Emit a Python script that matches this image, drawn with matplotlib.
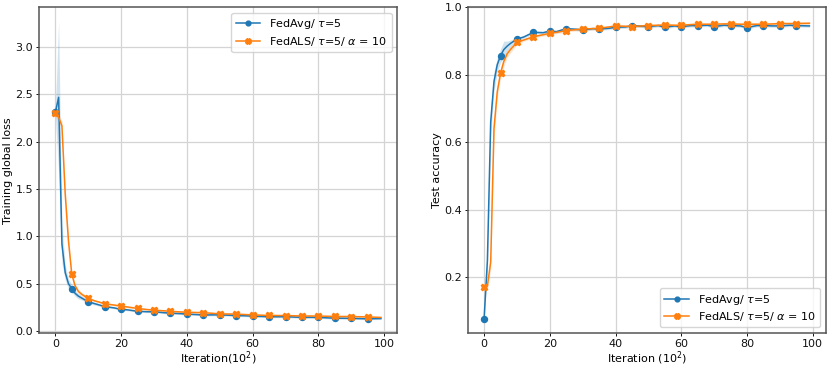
import numpy as np
import matplotlib
matplotlib.use("Agg")
import matplotlib.pyplot as plt

iters = [0, 1, 2, 3, 4, 5, 6, 7, 8, 10, 12, 15, 18, 20, 22, 25, 28, 30, 33, 35,
         38, 40, 43, 45, 48, 50, 53, 55, 58, 60, 63, 65, 68, 70, 73, 75, 78, 80,
         83, 85, 88, 90, 93, 95, 99]

loss_avg = [2.31, 2.47, 0.92, 0.62, 0.50, 0.45, 0.40, 0.37, 0.35, 0.31, 0.29, 0.26, 0.245,
            0.23, 0.225, 0.21, 0.205, 0.205, 0.195, 0.19, 0.185, 0.18, 0.175, 0.17, 0.172,
            0.172, 0.168, 0.165, 0.162, 0.158, 0.155, 0.152, 0.152, 0.153, 0.148, 0.146,
            0.146, 0.145, 0.14, 0.137, 0.136, 0.135, 0.132, 0.13, 0.133]
loss_avg_std = [0.03, 0.80, 0.20, 0.08, 0.05, 0.04, 0.03, 0.03, 0.02, 0.02, 0.015, 0.01, 0.01,
                0.01, 0.01, 0.01, 0.01, 0.01, 0.01, 0.01, 0.01, 0.01, 0.01, 0.01, 0.01,
                0.01, 0.01, 0.01, 0.01, 0.01, 0.01, 0.01, 0.01, 0.01, 0.01, 0.01,
                0.01, 0.01, 0.01, 0.01, 0.01, 0.01, 0.01, 0.01, 0.01]

loss_als = [2.30, 2.26, 2.17, 1.45, 0.95, 0.60, 0.48, 0.42, 0.39, 0.345, 0.32, 0.29, 0.275,
            0.265, 0.255, 0.24, 0.228, 0.222, 0.215, 0.21, 0.203, 0.20, 0.197, 0.195, 0.188,
            0.182, 0.181, 0.18, 0.175, 0.172, 0.168, 0.166, 0.165, 0.165, 0.162, 0.16,
            0.16, 0.159, 0.157, 0.155, 0.155, 0.154, 0.152, 0.15, 0.145]
loss_als_std = [0.03, 0.04, 0.05, 0.06, 0.05, 0.03, 0.02, 0.02, 0.02, 0.015, 0.01, 0.01, 0.01,
                0.01, 0.01, 0.01, 0.01, 0.01, 0.01, 0.01, 0.01, 0.01, 0.01, 0.01, 0.01,
                0.01, 0.01, 0.01, 0.01, 0.01, 0.01, 0.01, 0.01, 0.01, 0.01, 0.01,
                0.01, 0.01, 0.01, 0.01, 0.01, 0.01, 0.01, 0.01, 0.01]

acc_avg = [0.078, 0.25, 0.66, 0.78, 0.83, 0.857, 0.875, 0.885, 0.893, 0.906, 0.912, 0.926, 0.925,
           0.930, 0.928, 0.937, 0.935, 0.933, 0.937, 0.936, 0.938, 0.941, 0.942, 0.946, 0.944,
           0.943, 0.946, 0.941, 0.945, 0.943, 0.946, 0.946, 0.947, 0.943, 0.947, 0.946,
           0.945, 0.940, 0.946, 0.946, 0.945, 0.945, 0.947, 0.946, 0.945]
acc_avg_std = [0.005, 0.03, 0.04, 0.03, 0.02, 0.02, 0.025, 0.015, 0.01, 0.005, 0.004, 0.004, 0.004,
               0.004, 0.004, 0.004, 0.004, 0.004, 0.004, 0.004, 0.004, 0.004, 0.004, 0.004, 0.004,
               0.004, 0.004, 0.004, 0.004, 0.004, 0.004, 0.004, 0.004, 0.004, 0.004, 0.004,
               0.004, 0.004, 0.004, 0.004, 0.004, 0.004, 0.004, 0.004, 0.004]

acc_als = [0.170, 0.175, 0.245, 0.64, 0.75, 0.805, 0.84, 0.862, 0.875, 0.896, 0.903, 0.913, 0.919,
           0.923, 0.926, 0.931, 0.934, 0.936, 0.937, 0.938, 0.942, 0.945, 0.944, 0.943, 0.945,
           0.946, 0.947, 0.948, 0.947, 0.947, 0.949, 0.950, 0.950, 0.950, 0.951, 0.951,
           0.950, 0.950, 0.950, 0.950, 0.951, 0.952, 0.952, 0.952, 0.953]
acc_als_std = [0.005, 0.01, 0.02, 0.03, 0.02, 0.015, 0.015, 0.01, 0.01, 0.006, 0.004, 0.004, 0.004,
               0.004, 0.004, 0.004, 0.004, 0.004, 0.004, 0.004, 0.004, 0.004, 0.004, 0.004, 0.004,
               0.004, 0.004, 0.004, 0.004, 0.004, 0.004, 0.004, 0.004, 0.004, 0.004, 0.004,
               0.004, 0.004, 0.004, 0.004, 0.004, 0.004, 0.004, 0.004, 0.004]

label_avg = r"FedAvg/ $\tau$=5"
label_als = r"FedALS/ $\tau$=5/ $\alpha$ = 10"

FS = 8

x = np.array(iters)
marks = [i for i, v in enumerate(iters) if v % 5 == 0]

fig = plt.figure(figsize=(8.31, 3.68), dpi=100)
ax1 = fig.add_axes([0.047, 0.095, 0.431, 0.885])
ax2 = fig.add_axes([0.563, 0.095, 0.4306, 0.885])


def draw(ax, ya, sa, yb, sb):
    ya, sa, yb, sb = map(np.array, (ya, sa, yb, sb))
    ax.plot(x, ya, color="#1f77b4", marker="o", markersize=4.3, markevery=marks,
            linewidth=1.1, label=label_avg)
    ax.fill_between(x, ya - sa, ya + sa, color="#1f77b4", alpha=0.2, linewidth=0)
    ax.plot(x, yb, color="#ff7f0e", marker="X", markersize=5, markevery=marks,
            linewidth=1.1, label=label_als)
    ax.fill_between(x, yb - sb, yb + sb, color="#ff7f0e", alpha=0.2, linewidth=0)
    ax.grid(True, color="#d4d4d4", linewidth=0.9)
    ax.set_axisbelow(True)
    ax.set_xlim(-4.95, 103.95)
    ax.set_xticks([0, 20, 40, 60, 80, 100])
    ax.tick_params(labelsize=FS, colors="#111111", length=2.2, pad=2.0, width=0.7)
    for s in ax.spines.values():
        s.set_color("#555555")
        s.set_linewidth(1.1)


draw(ax1, loss_avg, loss_avg_std, loss_als, loss_als_std)
ax1.set_ylim(-0.02, 3.42)
ax1.set_xlabel(r"Iteration(10$^2$)", fontsize=FS, labelpad=0.5)
ax1.set_ylabel("Training global loss", fontsize=FS, labelpad=1.5)
ax1.legend(loc="upper right", fontsize=FS, markerscale=0.8, handlelength=2.2,
           labelspacing=0.3)

draw(ax2, acc_avg, acc_avg_std, acc_als, acc_als_std)
ax2.set_ylim(0.035, 1.0)
ax2.set_yticks([0.2, 0.4, 0.6, 0.8, 1.0])
ax2.set_xlabel(r"Iteration (10$^2$)", fontsize=FS, labelpad=0.5)
ax2.set_ylabel("Test accuracy", fontsize=FS, labelpad=1.5)
ax2.legend(loc="lower right", fontsize=FS, markerscale=0.8, handlelength=2.2,
           labelspacing=0.3)

fig.savefig("out.png", dpi=100)
